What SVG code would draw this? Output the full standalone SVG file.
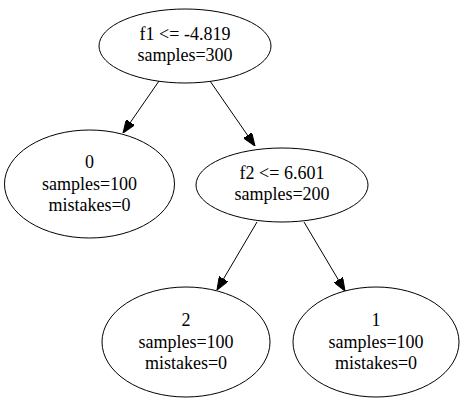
<svg xmlns="http://www.w3.org/2000/svg" width="466" height="401" viewBox="0 0 466 401">
<style>
.n ellipse{fill:none;stroke:#000;stroke-width:1}
.n text{font-family:"Liberation Serif","Times New Roman",serif;font-size:18px;fill:#000;text-anchor:middle}
.e{stroke:#000;stroke-width:1;fill:none;marker-end:url(#ah)}
</style>
<defs>
<marker id="ah" markerUnits="userSpaceOnUse" viewBox="0 0 13 10" markerWidth="13" markerHeight="10" refX="13" refY="5" orient="auto">
<path d="M0,0 L13,5 L0,10 z" fill="#000" stroke="#000"/>
</marker>
</defs>
<rect width="466" height="401" fill="#fff"/>
<g id="edges">
<path class="e" d="M159,81 L123,133"/>
<path class="e" d="M210,81 L255,146"/>
<path class="e" d="M257,222 L217,290"/>
<path class="e" d="M304,222 L345,291"/>
</g>
<g id="root" class="n">
<ellipse cx="185" cy="46" rx="86" ry="37"/>
<text x="185" y="40">f1 &lt;= -4.819</text>
<text x="185" y="61">samples=300</text>
</g>
<g id="leaf0" class="n">
<ellipse cx="89.5" cy="184" rx="85" ry="54"/>
<text x="89.5" y="168">0</text>
<text x="89.5" y="190">samples=100</text>
<text x="89.5" y="211">mistakes=0</text>
</g>
<g id="split2" class="n">
<ellipse cx="282" cy="185" rx="86" ry="37"/>
<text x="282" y="179">f2 &lt;= 6.601</text>
<text x="282" y="200">samples=200</text>
</g>
<g id="leaf2" class="n">
<ellipse cx="186" cy="342" rx="84" ry="55"/>
<text x="186" y="326">2</text>
<text x="186" y="348">samples=100</text>
<text x="186" y="369">mistakes=0</text>
</g>
<g id="leaf1" class="n">
<ellipse cx="376" cy="342" rx="83" ry="55"/>
<text x="376" y="326">1</text>
<text x="376" y="348">samples=100</text>
<text x="376" y="369">mistakes=0</text>
</g>
</svg>
